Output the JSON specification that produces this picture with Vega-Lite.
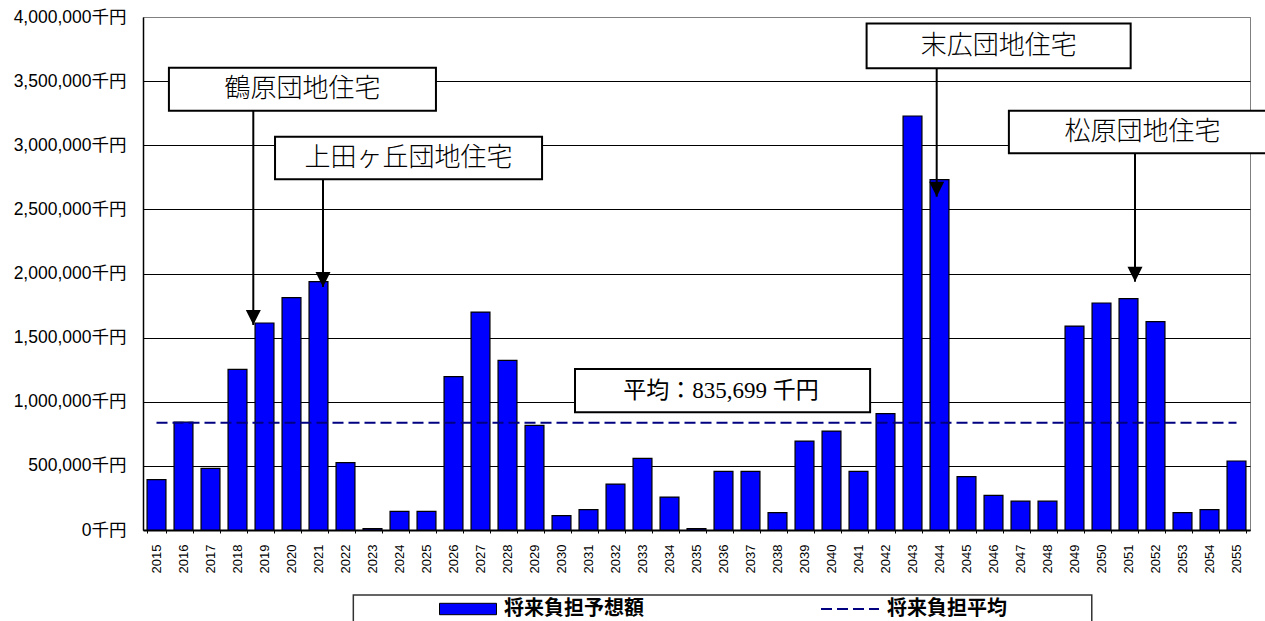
{
  "$schema": "https://vega.github.io/schema/vega-lite/v6.json",
  "width": 1107,
  "height": 513,
  "autosize": {"type": "none"},
  "padding": {"left": 143, "top": 17, "right": 15, "bottom": 91},
  "background": "white",
  "config": {
    "view": {"stroke": "#808080", "strokeWidth": 1},
    "font": "Liberation Sans, Noto Sans CJK JP"
  },
  "datasets": {
    "bars": [
      {"year": 2015, "value": 393000}, {"year": 2016, "value": 842000}, {"year": 2017, "value": 481000},
      {"year": 2018, "value": 1253000}, {"year": 2019, "value": 1614000}, {"year": 2020, "value": 1812000},
      {"year": 2021, "value": 1936000}, {"year": 2022, "value": 525000}, {"year": 2023, "value": 10000},
      {"year": 2024, "value": 145000}, {"year": 2025, "value": 145000}, {"year": 2026, "value": 1196000},
      {"year": 2027, "value": 1699000}, {"year": 2028, "value": 1323000}, {"year": 2029, "value": 816000},
      {"year": 2030, "value": 112000}, {"year": 2031, "value": 159000}, {"year": 2032, "value": 358000},
      {"year": 2033, "value": 559000}, {"year": 2034, "value": 257000}, {"year": 2035, "value": 10000},
      {"year": 2036, "value": 457000}, {"year": 2037, "value": 457000}, {"year": 2038, "value": 135000},
      {"year": 2039, "value": 693000}, {"year": 2040, "value": 771000}, {"year": 2041, "value": 457000},
      {"year": 2042, "value": 907000}, {"year": 2043, "value": 3228000}, {"year": 2044, "value": 2732000},
      {"year": 2045, "value": 416000}, {"year": 2046, "value": 270000}, {"year": 2047, "value": 225000},
      {"year": 2048, "value": 225000}, {"year": 2049, "value": 1590000}, {"year": 2050, "value": 1770000},
      {"year": 2051, "value": 1804000}, {"year": 2052, "value": 1625000}, {"year": 2053, "value": 135000},
      {"year": 2054, "value": 159000}, {"year": 2055, "value": 538000}
    ],
    "boxes": [
      {"label": "鶴原団地住宅", "x1": 2015.46, "x2": 2025.35, "y1": 3604700, "y2": 3269400, "tx": 2020.41, "ty": 3437000, "kind": "callout"},
      {"label": "上田ヶ丘団地住宅", "x1": 2019.39, "x2": 2029.28, "y1": 3066700, "y2": 2734500, "tx": 2024.33, "ty": 2900600, "kind": "callout"},
      {"label": "末広団地住宅", "x1": 2041.3, "x2": 2051.08, "y1": 3949300, "y2": 3600000, "tx": 2046.19, "ty": 3774700, "kind": "callout"},
      {"label": "松原団地住宅", "x1": 2046.57, "x2": 2056.46, "y1": 3269400, "y2": 2937200, "tx": 2051.52, "ty": 3103300, "kind": "callout"},
      {"label": "平均：835,699 千円", "x1": 2030.5, "x2": 2041.43, "y1": 1255400, "y2": 917700, "tx": 2035.91, "ty": 1086500, "kind": "avg"}
    ],
    "arrows": [
      {"x": 2018.585, "from": 3269400, "to": 1598400, "head": 1657000},
      {"x": 2021.167, "from": 2734500, "to": 1894700, "head": 1953200},
      {"x": 2043.896, "from": 3600000, "to": 2598800, "head": 2657300},
      {"x": 2051.24, "from": 2937200, "to": 1936000, "head": 1994500}
    ],
    "frame": [
      {"x1": 2022.29, "x2": 2049.64, "y1": -506800, "y2": -1000000}
    ]
  },
  "layer": [
    {
      "layer": [
        {
          "data": {"name": "bars"},
          "mark": {"type": "bar", "stroke": "#000000", "strokeWidth": 1.2},
          "encoding": {
            "x": {
              "field": "year",
              "type": "ordinal",
              "scale": {"paddingInner": 0.3, "paddingOuter": 0.15},
              "axis": {
                "title": null,
                "labelAngle": -90,
                "labelFontSize": 13,
                "labelFont": "Liberation Sans",
                "labelColor": "#000000",
                "labelPadding": 11,
                "tickBand": "extent",
                "tickSize": 3,
                "tickColor": "#000000",
                "domainColor": "#000000",
                "domainWidth": 2,
                "grid": false
              }
            },
            "y": {
              "field": "value",
              "type": "quantitative",
              "scale": {"domain": [0, 4000000], "nice": false, "zero": true},
              "axis": {
                "title": null,
                "values": [0, 500000, 1000000, 1500000, 2000000, 2500000, 3000000, 3500000, 4000000],
                "labelExpr": "format(datum.value, ',') + '千円'",
                "labelFontSize": 17.5,
                "labelColor": "#000000",
                "labelPadding": 17,
                "ticks": false,
                "domainColor": "#000000",
                "domainWidth": 1.5,
                "grid": true,
                "gridColor": {"condition": {"test": "datum.value === 4000000", "value": "#808080"}, "value": "#000000"},
                "gridWidth": 1.2
              }
            },
            "color": {
              "datum": "将来負担予想額",
              "type": "nominal",
              "scale": {"domain": ["将来負担予想額"], "range": ["#0000FF"]},
              "legend": {
                "title": null,
                "orient": "none",
                "legendX": 296,
                "legendY": 563,
                "padding": 0,
                "symbolType": "M-1,-0.2H1V0.2H-1Z",
                "symbolSize": 3249,
                "symbolFillColor": "#0000FF",
                "symbolStrokeColor": "#000000",
                "symbolStrokeWidth": 1,
                "symbolOpacity": 1,
                "labelFontSize": 20,
                "labelFontWeight": "bold",
                "labelFont": "Noto Sans CJK JP",
                "labelColor": "#000000",
                "labelOffset": 7,
                "labelLimit": 400
              }
            }
          }
        },
        {
          "data": {"name": "bars"},
          "mark": {"type": "line", "color": "#000080", "strokeWidth": 2, "interpolate": "linear"},
          "encoding": {
            "x": {"field": "year", "type": "ordinal"},
            "y": {"datum": 835699, "type": "quantitative"},
            "strokeDash": {
              "datum": "将来負担平均",
              "type": "nominal",
              "scale": {"domain": ["将来負担平均"], "range": [[11, 5]]},
              "legend": {
                "title": null,
                "orient": "none",
                "legendX": 677,
                "legendY": 562,
                "padding": 0,
                "symbolType": "stroke",
                "symbolSize": 3364,
                "symbolStrokeColor": "#000080",
                "symbolStrokeWidth": 2,
                "symbolDash": [11, 4.5],
                "symbolOpacity": 1,
                "labelFontSize": 20,
                "labelFontWeight": "bold",
                "labelFont": "Noto Sans CJK JP",
                "labelColor": "#000000",
                "labelOffset": 7,
                "labelLimit": 400
              }
            }
          }
        }
      ]
    },
    {
      "layer": [
        {
          "data": {"name": "frame"},
          "mark": {"type": "rect", "fill": null, "fillOpacity": 0, "stroke": "#333333", "strokeWidth": 1.5, "clip": false},
          "encoding": {
            "x": {"field": "x1", "type": "quantitative", "scale": {"domain": [2014.5, 2055.5], "nice": false, "zero": false}, "axis": null},
            "x2": {"field": "x2"},
            "y": {"field": "y1", "type": "quantitative"},
            "y2": {"field": "y2"}
          }
        },
        {
          "data": {"name": "arrows"},
          "mark": {"type": "rule", "color": "#000000", "strokeWidth": 2},
          "encoding": {
            "x": {"field": "x", "type": "quantitative"},
            "y": {"field": "from", "type": "quantitative"},
            "y2": {"field": "to"}
          }
        },
        {
          "data": {"name": "arrows"},
          "mark": {"type": "point", "shape": "M-1,-1H1L0,1Z", "size": 225, "filled": true, "color": "#000000", "opacity": 1, "strokeWidth": 0},
          "encoding": {
            "x": {"field": "x", "type": "quantitative"},
            "y": {"field": "head", "type": "quantitative"}
          }
        },
        {
          "data": {"name": "boxes"},
          "mark": {"type": "rect", "fill": "#FFFFFF", "stroke": "#000000", "strokeWidth": 2, "clip": false},
          "encoding": {
            "x": {"field": "x1", "type": "quantitative"},
            "x2": {"field": "x2"},
            "y": {"field": "y1", "type": "quantitative"},
            "y2": {"field": "y2"}
          }
        },
        {
          "data": {"name": "boxes"},
          "transform": [{"filter": "datum.kind === 'callout'"}],
          "mark": {"type": "text", "font": "Noto Sans CJK JP", "fontSize": 26, "fontWeight": 300, "color": "#000000", "align": "center", "baseline": "middle"},
          "encoding": {
            "x": {"field": "tx", "type": "quantitative"},
            "y": {"field": "ty", "type": "quantitative"},
            "text": {"field": "label"}
          }
        },
        {
          "data": {"name": "boxes"},
          "transform": [{"filter": "datum.kind === 'avg'"}],
          "mark": {"type": "text", "font": "Liberation Serif, Noto Sans CJK JP", "fontSize": 23, "color": "#000000", "align": "center", "baseline": "middle"},
          "encoding": {
            "x": {"field": "tx", "type": "quantitative"},
            "y": {"field": "ty", "type": "quantitative"},
            "text": {"field": "label"}
          }
        }
      ]
    }
  ],
  "resolve": {"scale": {"x": "independent"}}
}
